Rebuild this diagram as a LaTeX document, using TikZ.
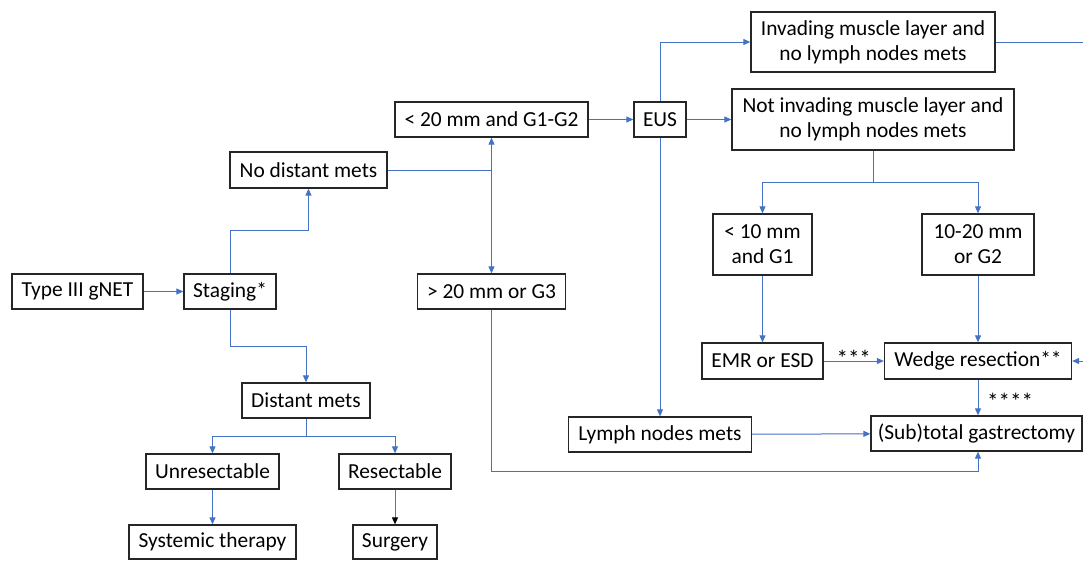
\documentclass[tikz,border=0pt]{standalone}
\usepackage{fontspec}
\setmainfont{Carlito}
\usetikzlibrary{arrows.meta,calc}
\definecolor{cblue}{HTML}{4472C4}
\begin{document}
\begin{tikzpicture}[x=1pt,y=-1pt,
  box/.style={draw=black!85, line width=1.3pt, inner sep=0pt, align=center,
    font=\fontsize{21.4}{25}\selectfont, text=black},
  conn/.style={draw=cblue, line width=1pt, -{Triangle[length=7pt,width=6pt]}},
  plainline/.style={draw=cblue, line width=1pt},
  darkconn/.style={draw=black!55, line width=1pt, -{Triangle[length=7pt,width=6pt,fill=black,color=black]}},
  star/.style={font=\fontsize{23}{25}\selectfont, inner sep=0pt, text=black}]
\useasboundingbox (0,0) rectangle (1083,560);
\clip (0,0) rectangle (1083,560);
% nodes
\node[box, minimum width=131pt, minimum height=35pt] (typeiii) at (77.5,291.5) {Type III gNET};
\node[box, minimum width=92pt, minimum height=35pt] (staging) at (230,291.5) {Staging*};
\node[box, minimum width=157pt, minimum height=36pt] (nodist) at (308.5,170) {No distant mets};
\node[box, minimum width=193pt, minimum height=35pt] (lt20) at (491.5,119.5) {< 20 mm and G1-G2};
\node[box, minimum width=148pt, minimum height=35pt] (gt20) at (491.5,291.5) {> 20 mm or G3};
\node[box, minimum width=52pt, minimum height=35pt] (eus) at (660,119.5) {EUS};
\node[box, minimum width=244pt, minimum height=60pt] (invading) at (873,42) {Invading muscle layer and\\no lymph nodes mets};
\node[box, minimum width=282pt, minimum height=61pt] (notinv) at (873,119.5) {Not invading muscle layer and\\no lymph nodes mets};
\node[box, minimum width=99pt, minimum height=61pt] (lt10) at (762.5,244.5) {< 10 mm\\and G1};
\node[box, minimum width=112pt, minimum height=61pt] (b1020) at (978,244.5) {10-20 mm\\or G2};
\node[box, minimum width=121pt, minimum height=36pt] (emr) at (762.5,361) {EMR or ESD};
\node[box, minimum width=187pt, minimum height=36pt] (wedge) at (978,361) {Wedge resection**};
\node[box, minimum width=183pt, minimum height=35pt] (lnm) at (660,434.5) {Lymph nodes mets};
\node[box, minimum width=211pt, minimum height=35pt] (subtot) at (976.5,433.5) {(Sub)total gastrectomy};
\node[box, minimum width=128pt, minimum height=35pt] (distant) at (306,400.5) {Distant mets};
\node[box, minimum width=133pt, minimum height=35pt] (unres) at (212.5,471.5) {Unresectable};
\node[box, minimum width=112pt, minimum height=35pt] (res) at (395,471.5) {Resectable};
\node[box, minimum width=167pt, minimum height=34pt] (systemic) at (212.5,542) {Systemic therapy};
\node[box, minimum width=84pt, minimum height=34pt] (surgery) at (395,542) {Surgery};
% junctions
\coordinate (j1) at (lt20.south |- nodist.east);
\coordinate (j2) at ($(notinv.south)+(0,32)$);
\coordinate (j3) at ($(distant.south)+(0,18)$);
\coordinate (subin) at (wedge.south |- subtot.south);
% connectors
\draw[conn] (typeiii) -- (staging);
\draw[conn] (staging.north) -- ++(0,-43) -| (nodist.south);
\draw[plainline] (nodist.east) -- (j1);
\draw[conn] (j1) -- (lt20.south);
\draw[conn] (j1) -- (gt20.north);
\draw[conn] (lt20) -- (eus);
\draw[conn] (eus.north) |- (invading.west);
\draw[conn] (eus) -- (notinv);
\draw[conn] (eus.south) -- (lnm.north);
\draw[plainline] (notinv.south) -- (j2);
\draw[conn] (j2) -| (lt10.north);
\draw[conn] (j2) -| (b1020.north);
\draw[conn] (lt10) -- (emr);
\draw[conn] (b1020) -- (wedge);
\draw[conn] (emr) -- (wedge);
\node[star, anchor=base] (s3) at ($(emr.east)!0.5!(wedge.west)+(0,5.5)$) {***};
\draw[conn] (wedge.south) -- (wedge.south |- subtot.north);
\node[star, anchor=base west] (s4) at (987,409) {****};
\draw[conn] (lnm) -- (subtot);
\draw[conn] (gt20.south) -- ++(0,162) -| (subin);
\draw[conn] (invading.east) -- ++(100,0) |- (wedge.east);
\draw[conn] (staging.south) -- ++(0,37) -| (distant.north);
\draw[plainline] (distant.south) -- (j3);
\draw[conn] (j3) -| (unres.north);
\draw[conn] (j3) -| (res.north);
\draw[conn] (unres) -- (systemic);
\draw[darkconn] (res) -- (surgery);
\end{tikzpicture}
\end{document}
